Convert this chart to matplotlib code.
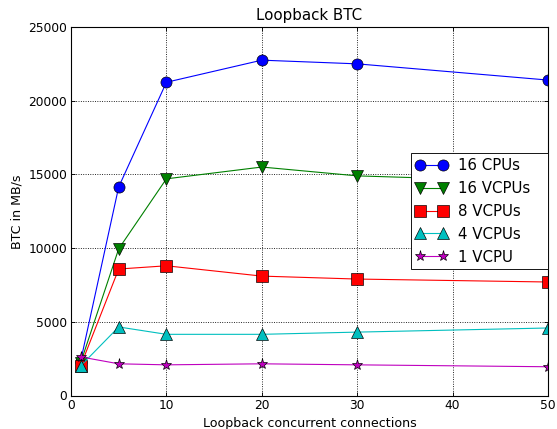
import matplotlib
matplotlib.use("Agg")
import matplotlib.pyplot as plt

connections = [1, 5, 10, 20, 30, 50]
cpu16 = [2300, 14150, 21250, 22750, 22500, 21400]
vcpu16 = [2200, 9950, 14700, 15500, 14900, 14500]
vcpu8 = [2000, 8580, 8800, 8100, 7900, 7700]
vcpu4 = [2000, 4650, 4150, 4150, 4300, 4580]
vcpu1 = [2620, 2150, 2080, 2150, 2080, 1950]

series = [
    ("16 CPUs", cpu16, (0, 0, 1), "o"),
    ("16 VCPUs", vcpu16, (0, 0.5, 0), "v"),
    ("8 VCPUs", vcpu8, (1, 0, 0), "s"),
    ("4 VCPUs", vcpu4, (0, 0.75, 0.75), "^"),
    ("1 VCPU", vcpu1, (0.75, 0, 0.75), "*"),
]

plt.rcParams['font.family'] = ['DejaVu Sans']
plt.rcParams['xtick.direction'] = 'in'
plt.rcParams['ytick.direction'] = 'in'

dpi = 80
W, H = 557, 429
fig = plt.figure(figsize=(W / dpi, H / dpi), dpi=dpi)
L, R, T, B = 71, 548, 27, 395.5
ax = fig.add_axes([L / W, 1 - B / H, (R - L) / W, (B - T) / H])

for label, ys, col, mk in series:
    ax.plot(connections, ys, color=col, marker=mk, markersize=10,
            markeredgecolor='k', markeredgewidth=0.6, linewidth=1.0, label=label)

ax.set_xlim(0, 50)
ax.set_ylim(0, 25000)
ax.set_xticks([0, 10, 20, 30, 40, 50])
ax.set_yticks([0, 5000, 10000, 15000, 20000, 25000])
ax.grid(True, color='k', linestyle=':', linewidth=0.8)
ax.tick_params(top=True, right=True, length=4, width=0.8, labelsize=11)
ax.set_title("Loopback BTC", fontsize=13.5)
ax.set_xlabel("Loopback concurrent connections", fontsize=11.4)
ax.set_ylabel("BTC in MB/s", fontsize=11.4)
leg_x0 = (411 - L) / (R - L)
leg = ax.legend(loc='center right', bbox_to_anchor=(leg_x0, 0.0, 1.0 - leg_x0, 1.0),
                mode='expand', numpoints=2, fancybox=False, framealpha=1,
                edgecolor='k', borderaxespad=0.0, handlelength=2.13,
                handletextpad=0.73, labelspacing=0.53, fontsize=13.5, borderpad=0.3)
leg.get_frame().set_linewidth(0.8)
for sp in ax.spines.values():
    sp.set_linewidth(1.0)

fig.savefig("out.png", dpi=dpi)
